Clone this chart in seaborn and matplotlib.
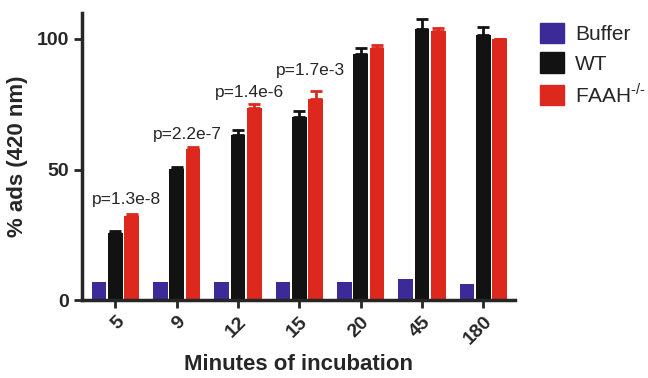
import matplotlib

matplotlib.use("Agg")
import matplotlib.pyplot as plt
import numpy as np
import pandas as pd
import seaborn as sns

# values
minutes = ["5", "9", "12", "15", "20", "45", "180"]
groups = ["Buffer", "WT", "FAAH"]
buffer_mean = [7.0, 7.0, 7.0, 7.0, 7.0, 8.0, 6.0]
wt_mean = [25.7, 50.2, 63.2, 70.1, 94.3, 103.8, 101.5]
faah_mean = [32.2, 57.9, 73.6, 77.0, 96.5, 103.0, 100.0]
wt_err = [0.6, 0.8, 2.0, 2.2, 2.3, 4.0, 3.0]
faah_err = [0.6, 0.6, 1.5, 3.0, 1.0, 1.2, 0.0]
p_labels = ["p=1.3e-8", "p=2.2e-7", "p=1.4e-6", "p=1.7e-3"]
p_heights = [35.5, 60.5, 76.5, 85]

colors = {"Buffer": "#3c2a98", "WT": "#121212", "FAAH": "#dd291d"}
legend_names = {"Buffer": "Buffer", "WT": "WT",
                "FAAH": "FAAH$^{\\mathregular{\u2010/\u2010}}$"}

df = pd.DataFrame({
    "minutes": minutes * 3,
    "group": ["Buffer"] * 7 + ["WT"] * 7 + ["FAAH"] * 7,
    "value": buffer_mean + wt_mean + faah_mean,
})

sns.set_style("ticks")
plt.rcParams["font.family"] = ["Liberation Sans", "DejaVu Sans"]
plt.rcParams["mathtext.fontset"] = "custom"
plt.rcParams["mathtext.rm"] = "Liberation Sans"

fig = plt.figure(figsize=(6.48, 3.78), dpi=100)
ax = fig.add_axes([0.127, 0.206, 0.668, 0.76])

sns.barplot(
    data=df, x="minutes", y="value", hue="group",
    order=minutes, hue_order=groups, palette=colors,
    errorbar=None, width=0.8, gap=0.1, saturation=1,
    legend=False, ax=ax, linewidth=0,
)

# error bars (upper only), taken from the drawn bars
errs = {"WT": wt_err, "FAAH": faah_err}
for container, name in zip(ax.containers, groups):
    if name not in errs:
        continue
    xs = [b.get_x() + b.get_width() / 2 for b in container]
    hs = [b.get_height() for b in container]
    ax.errorbar(xs, hs, yerr=[np.zeros(len(xs)), errs[name]], fmt="none",
                ecolor=colors[name], elinewidth=2, capsize=4, capthick=2)

for i, (lab, h) in enumerate(zip(p_labels, p_heights)):
    ax.text(i + 0.18, h, lab, ha="center", va="bottom", fontsize=12.5)

ax.set_xlim(-0.54, 6.52)
ax.set_ylim(0, 110)
ax.set_yticks([0, 50, 100])
ax.set_xlabel("Minutes of incubation", fontsize=16, fontweight="bold", labelpad=4)
ax.set_ylabel("% ads (420 nm)", fontsize=16, fontweight="bold", labelpad=6)
ax.tick_params(axis="both", width=2, length=6, labelsize=14)
for lab in ax.get_xticklabels() + ax.get_yticklabels():
    lab.set_fontweight("bold")
for lab in ax.get_xticklabels():
    lab.set_rotation(45)
    lab.set_ha("right")
    lab.set_rotation_mode("anchor")
sns.despine(ax=ax)
for side in ["left", "bottom"]:
    ax.spines[side].set_linewidth(2.5)

handles = [plt.Rectangle((0, 0), 1, 1, color=colors[g]) for g in groups]
fig.legend(handles, [legend_names[g] for g in groups], loc="upper left",
           bbox_to_anchor=(0.82, 0.962), frameon=False, fontsize=15,
           handlelength=1.15, handleheight=1.15, handletextpad=0.55,
           labelspacing=0.4, borderaxespad=0)

fig.savefig("out.png", dpi=100)
